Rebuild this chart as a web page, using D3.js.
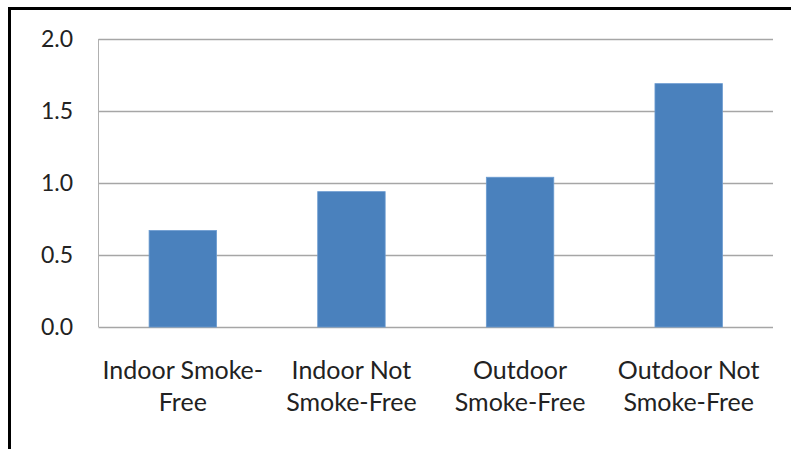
<!DOCTYPE html>
<html>
<head>
<meta charset="utf-8">
<script src="https://cdn.jsdelivr.net/npm/d3@7"></script>
<style>
  html, body { margin: 0; padding: 0; background: #fff; }
  svg { display: block; }
</style>
</head>
<body>
<svg id="chart" width="791" height="449"></svg>
<script>
// Chart data
const categories = [
  ["Indoor Smoke-", "Free"],
  ["Indoor Not", "Smoke-Free"],
  ["Outdoor", "Smoke-Free"],
  ["Outdoor Not", "Smoke-Free"]
];
const values = [0.67, 0.94, 1.04, 1.69];
const yTicks = [0, 0.5, 1.0, 1.5, 2.0];

const svg = d3.select("#chart");
const W = 791, H = 449;
const plot = { left: 98.5, right: 773, top: 39, bottom: 327 };
const font = "Lato, 'Open Sans', sans-serif";

// Outer frame
svg.append("rect")
  .attr("x", 9.5).attr("y", 8.5)
  .attr("width", W + 20).attr("height", H + 20)
  .attr("fill", "none").attr("stroke", "#000").attr("stroke-width", 3);

const keys = categories.map((c, i) => i);
const x = d3.scaleBand().domain(keys).range([plot.left, plot.right]).padding(0);
const y = d3.scaleLinear().domain([0, 2]).range([plot.bottom, plot.top]);

// Gridlines
svg.append("g").selectAll("line").data(yTicks).join("line")
  .attr("x1", plot.left).attr("x2", plot.right)
  .attr("y1", d => Math.round(y(d)) + 0.5).attr("y2", d => Math.round(y(d)) + 0.5)
  .attr("stroke", "#a6a6a6").attr("stroke-width", 1.5);

// Vertical axis line
svg.append("line")
  .attr("x1", plot.left).attr("x2", plot.left)
  .attr("y1", plot.top).attr("y2", plot.bottom)
  .attr("stroke", "#b0b0b0").attr("stroke-width", 1);

// Y tick labels
svg.append("g").selectAll("text").data(yTicks).join("text")
  .attr("x", 73).attr("y", d => y(d) + 8)
  .attr("text-anchor", "end")
  .attr("font-family", font).attr("font-size", 23)
  .attr("fill", "#222")
  .text(d => d3.format(".1f")(d));

// Bars
const barW = x.bandwidth() * 0.4;
svg.append("g").selectAll("rect").data(values).join("rect")
  .attr("x", (d, i) => x(i) + x.bandwidth() / 2 - barW / 2)
  .attr("y", d => y(d))
  .attr("width", barW)
  .attr("height", d => y(0) - y(d))
  .attr("fill", "#4a81bd")
  .attr("stroke", "#6b9bd0").attr("stroke-width", 0.8);

// Category labels
const cat = svg.append("g").selectAll("text").data(categories).join("text")
  .attr("text-anchor", "middle")
  .attr("font-family", font).attr("font-size", 25)
  .attr("fill", "#222");
cat.selectAll("tspan").data((d, i) => d.map(t => ({ t, i }))).join("tspan")
  .attr("x", d => x(d.i) + x.bandwidth() / 2)
  .attr("y", (d, j) => 379 + j * 32)
  .text(d => d.t);
</script>
</body>
</html>
